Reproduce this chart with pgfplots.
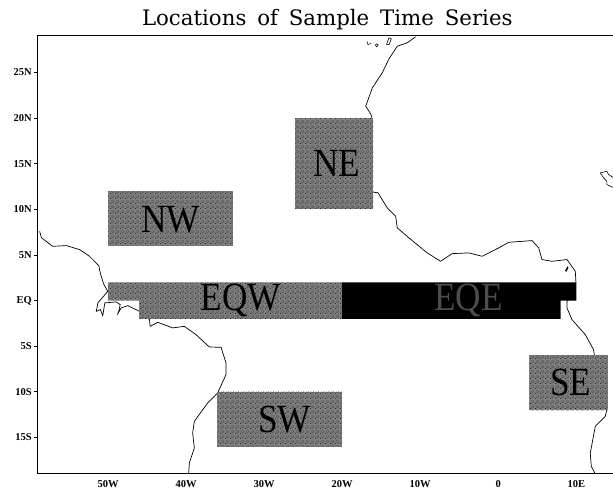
\documentclass[border=0pt]{standalone}
\usepackage{pgfplots}
\pgfplotsset{compat=1.18}
\usetikzlibrary{patterns}
\usepackage{fontspec}
\setmainfont{Liberation Serif}
\newfontfamily\titlefont[WordSpace=1.6]{DejaVu Serif}
\newfontfamily\boxfont[FakeStretch=0.88]{Liberation Serif}
\definecolor{speck}{gray}{0.5}
\pgfdeclarepatternformonly{speckle}{\pgfqpoint{0pt}{0pt}}{\pgfqpoint{5pt}{5pt}}{\pgfqpoint{5pt}{5pt}}{%
  \pgfpathrectangle{\pgfqpoint{0pt}{0pt}}{\pgfqpoint{1pt}{1pt}}%
  \pgfpathrectangle{\pgfqpoint{2pt}{1pt}}{\pgfqpoint{1pt}{1pt}}%
  \pgfpathrectangle{\pgfqpoint{4pt}{2pt}}{\pgfqpoint{1pt}{1pt}}%
  \pgfpathrectangle{\pgfqpoint{1pt}{3pt}}{\pgfqpoint{1pt}{1pt}}%
  \pgfpathrectangle{\pgfqpoint{3pt}{4pt}}{\pgfqpoint{1pt}{1pt}}%
  \pgfusepath{fill}}
\tikzset{speckbox/.style={draw=none,fill=speck,postaction={pattern=speckle,pattern color=black!85}}}
\begin{document}
\begin{tikzpicture}[x=1pt,y=1pt]
\useasboundingbox (-37,-15) rectangle (576,474);
\begin{axis}[
  at={(0,0)},anchor=south west,
  width=576pt,height=438pt,scale only axis,
  xmin=-59.1,xmax=14.7,ymin=-19,ymax=29,
  axis line style={line width=1pt,black},
  xtick={-50,-40,-30,-20,-10,0,10},
  xticklabels={50W,40W,30W,20W,10W,0,10E},
  ytick={-15,-10,-5,0,5,10,15,20,25},
  yticklabels={15S,10S,5S,EQ,5N,10N,15N,20N,25N},
  ytick pos=left,xtick pos=bottom,
  tick align=outside,
  xtick style={draw=none},
  ytick style={line width=0.8pt,black},
  major tick length=3pt,
  xticklabel style={font=\fontsize{10.5}{12}\selectfont\bfseries,inner sep=0pt,yshift=-3pt},
  yticklabel style={font=\fontsize{10.5}{12}\selectfont\bfseries,inner sep=0pt,xshift=-2pt},
  title={\titlefont\fontsize{21.3}{24}\selectfont Locations of Sample Time Series},
  title style={at={(rel axis cs:0.504,1)},anchor=base,yshift=4pt,inner sep=0pt},
  clip=true,
]
% coastlines
\addplot[black,line width=0.7pt] coordinates {
(-58.76,7.6)(-58.54,6.91)(-57.1,5.95)(-55.35,6.03)(-53.64,5.59)(-52.37,4.86)(-51.18,3.84)(-51.0,3.04)(-50.58,1.86)(-50.03,1.02)(-51.3,-0.25)(-51.5,-1.17)(-50.98,-0.99)(-50.67,-1.64)(-50.41,-0.25)(-48.95,-0.14)(-48.44,-0.44)(-48.62,-1.17)(-48.82,-1.54)(-48.31,-0.8)(-47.47,-0.55)(-45.97,-1.17)(-44.69,-2.08)(-44.6,-2.82)(-43.63,-2.38)(-41.71,-2.99)(-40.22,-2.82)(-38.72,-3.73)(-37.02,-5.08)(-35.52,-5.12)(-34.88,-6.83)(-34.88,-8.11)(-35.96,-10.12)(-37.24,-11.22)(-38.94,-13.23)(-39.16,-14.51)(-38.94,-16.15)(-39.58,-17.8)(-39.67,-19)};
\addplot[black,line width=0.7pt] coordinates {
(-10.59,28.91)(-11.66,28.26)(-12.94,27.88)(-14.0,26.5)(-14.86,24.97)(-16.14,23.32)(-16.98,21.3)(-16.56,20.76)(-16.21,20.2)(-16.6,15)(-16.18,11.92)(-15.41,11.81)(-14.22,10.16)(-13.15,9.24)(-12.94,7.97)(-11.45,6.88)(-9.1,5.23)(-7.39,4.31)(-5.91,5.15)(-3.77,5.23)(-2.07,4.86)(0.06,5.78)(1.34,6.39)(4.32,6.58)(5.18,5.78)(5.6,4.5)(6.88,4.31)(8.8,4.5)(9.87,3.21)(9.95,2.01)(9.5,0.5)(8.8,-0.08)(8.8,-0.8)(9.44,-2.08)(11.15,-3.73)(12.21,-5.37)(12.34,-6.11)(13.49,-10.3)(13.91,-11.95)(13.71,-12.69)(12.43,-13.78)(11.79,-16.7)(11.92,-18.17)(12.43,-19)};
% islands
\addplot[black,line width=0.6pt] coordinates {(-16.82,28.4)(-16.69,28.07)(-16.3,28.18)};
\addplot[black,line width=0.6pt] coordinates {(-15.75,28.0)(-15.57,28.15)(-15.39,28.0)(-15.57,27.82)} --cycle;
\addplot[black,line width=0.6pt] coordinates {(-14.32,28.1)(-14.0,28.8)(-13.7,28.7)(-14.0,28.05)} --cycle;
\addplot[black,line width=0.6pt] coordinates {(8.6,3.3)(8.9,3.7)(8.95,3.6)(8.7,3.2)} --cycle;
\addplot[black,line width=0.6pt] coordinates {(14.7,13.5)(14.13,13.82)(13.91,14.18)(13.07,14.0)(13.49,13.45)(13.91,13.08)(13.91,12.72)(14.7,12.4)};
% boxes
\addplot[speckbox] coordinates {(-50,6)(-34,6)(-34,12)(-50,12)} --cycle;
\addplot[speckbox] coordinates {(-26,10)(-16,10)(-16,20)(-26,20)} --cycle;
\addplot[speckbox] coordinates {(-36,-16)(-20,-16)(-20,-10)(-36,-10)} --cycle;
\addplot[speckbox] coordinates {(4,-12)(14,-12)(14,-6)(4,-6)} --cycle;
\addplot[speckbox] coordinates {(-50,2)(-20,2)(-20,-2)(-46,-2)(-46,0)(-50,0)} --cycle;
\addplot[draw=none,fill=black] coordinates {(-20,2)(10,2)(10,0)(8,0)(8,-2)(-20,-2)} --cycle;
% box names
\node[font=\boxfont\fontsize{40}{40}\selectfont] at (axis cs:-42,8.9) {NW};
\node[font=\boxfont\fontsize{40}{40}\selectfont] at (axis cs:-20.7,15) {NE};
\node[font=\boxfont\fontsize{40}{40}\selectfont] at (axis cs:-33,0) {EQW};
\node[font=\boxfont\fontsize{40}{40}\selectfont,text=gray!60!black] at (axis cs:-3.8,0) {EQE};
\node[font=\boxfont\fontsize{40}{40}\selectfont] at (axis cs:-27.4,-13) {SW};
\node[font=\boxfont\fontsize{40}{40}\selectfont] at (axis cs:9.3,-9) {SE};
\end{axis}
\end{tikzpicture}
\end{document}
